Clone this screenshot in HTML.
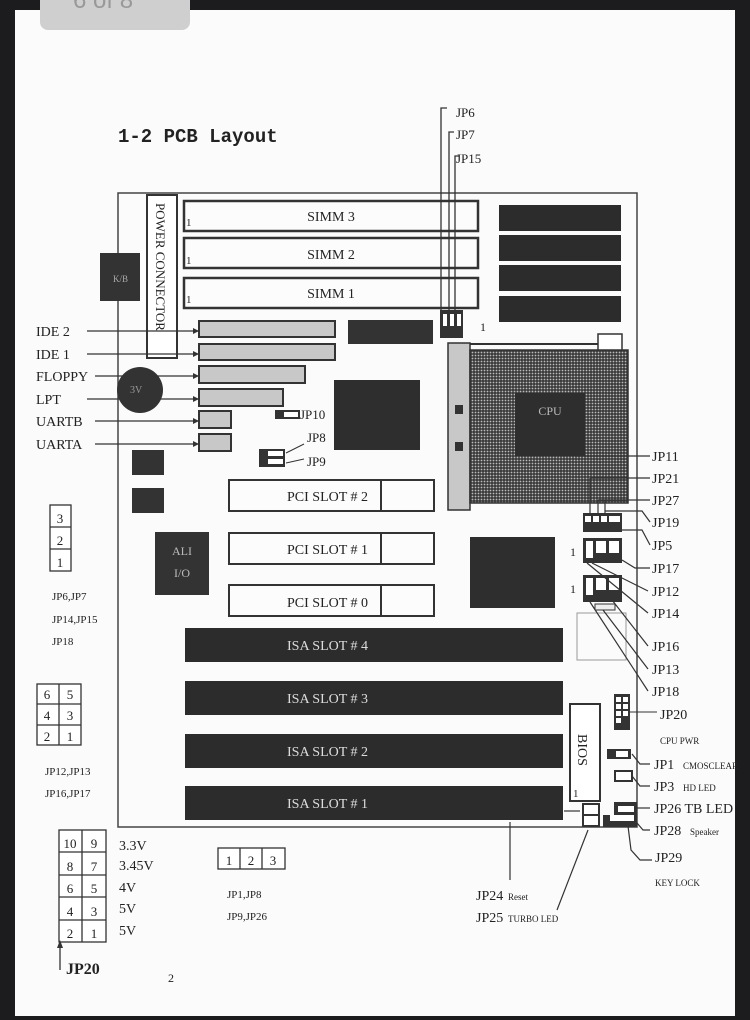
<!DOCTYPE html>
<html><head><meta charset="utf-8"><style>
html,body{margin:0;padding:0;background:#1c1c1e;}
svg{display:block;}
text{font-family:"Liberation Serif",serif;fill:#222;}
</style></head><body>
<svg width="750" height="1020" viewBox="0 0 750 1020" xmlns="http://www.w3.org/2000/svg">
<defs>
<pattern id="dots" width="3" height="3" patternUnits="userSpaceOnUse">
<rect width="3" height="3" fill="#3a3a3a"/><circle cx="1.5" cy="1.5" r="0.9" fill="#bbb"/>
</pattern>
</defs>
<rect x="0" y="0" width="750" height="1020" fill="#1c1c1e"/>
<rect x="15" y="10" width="720" height="1006" fill="#fbfbfb"/>
<rect x="40" y="-10" width="150" height="40" rx="8" fill="#cfcfcf"/>
<text x="73" y="8" font-size="24" style="fill:#999;font-family:'Liberation Sans',sans-serif">6 of 8</text>

<text x="118" y="142" font-size="19" font-weight="bold" style="font-family:'Liberation Mono',monospace">1-2 PCB Layout</text>

<!-- board -->
<rect x="118" y="193" width="519" height="634" fill="none" stroke="#444" stroke-width="1.5"/>
<rect x="147" y="195" width="30" height="163" fill="#fff" stroke="#333" stroke-width="2"/>
<text transform="translate(156,203) rotate(90)" font-size="13">POWER CONNECTOR</text>
<rect x="100" y="253" width="40" height="48" fill="#333"/>
<text x="113" y="282" font-size="9" style="fill:#aaa">K/B</text>

<g stroke="#333" stroke-width="2.5" fill="#fcfcfc">
<rect x="184" y="201" width="294" height="30"/>
<rect x="184" y="238" width="294" height="30"/>
<rect x="184" y="278" width="294" height="30"/>
</g>
<g font-size="14" text-anchor="middle">
<text x="331" y="221">SIMM 3</text><text x="331" y="259">SIMM 2</text><text x="331" y="298">SIMM 1</text>
</g>
<g font-size="11"><text x="186" y="226">1</text><text x="186" y="264">1</text><text x="186" y="303">1</text></g>

<g fill="#2c2c2c">
<rect x="499" y="205" width="122" height="26"/><rect x="499" y="235" width="122" height="26"/>
<rect x="499" y="265" width="122" height="26"/><rect x="499" y="296" width="122" height="26"/>
</g>

<!-- JP6/7/15 -->
<g stroke="#333" stroke-width="1.3" fill="none">
<path d="M447 108 H441 V312"/><path d="M454 132 H449 V312"/><path d="M459 156 H455 V312"/>
</g>
<rect x="440" y="310" width="23" height="28" fill="#333"/>
<g fill="#fff"><rect x="443" y="314" width="4" height="12"/><rect x="450" y="314" width="4" height="12"/><rect x="457" y="314" width="4" height="12"/></g>
<g font-size="13"><text x="456" y="117">JP6</text><text x="456" y="139">JP7</text><text x="456" y="163">JP15</text></g>
<text x="480" y="331" font-size="12">1</text>

<!-- IDE etc -->
<g stroke="#333" stroke-width="2" fill="#c8c8c8">
<rect x="199" y="321" width="136" height="16"/><rect x="199" y="344" width="136" height="16"/>
<rect x="199" y="366" width="106" height="17"/><rect x="199" y="389" width="84" height="17"/>
<rect x="199" y="411" width="32" height="17"/><rect x="199" y="434" width="32" height="17"/>
</g>
<g stroke="#333" stroke-width="1.2">
<line x1="87" y1="331" x2="199" y2="331"/><line x1="87" y1="354" x2="199" y2="354"/>
<line x1="95" y1="376" x2="199" y2="376"/><line x1="87" y1="399" x2="199" y2="399"/>
<line x1="95" y1="421" x2="199" y2="421"/><line x1="95" y1="444" x2="199" y2="444"/>
</g>
<g fill="#333">
<path d="M199 331 l-6 -3 v6z"/><path d="M199 354 l-6 -3 v6z"/><path d="M199 376 l-6 -3 v6z"/>
<path d="M199 399 l-6 -3 v6z"/><path d="M199 421 l-6 -3 v6z"/><path d="M199 444 l-6 -3 v6z"/>
</g>
<g font-size="14"><text x="36" y="336">IDE 2</text><text x="36" y="359">IDE 1</text><text x="36" y="381">FLOPPY</text>
<text x="36" y="404">LPT</text><text x="36" y="426">UARTB</text><text x="36" y="449">UARTA</text></g>
<circle cx="140" cy="390" r="23" fill="#333"/>
<text x="130" y="393" font-size="10" style="fill:#999">3V</text>

<rect x="348" y="320" width="85" height="24" fill="#333"/>
<rect x="334" y="380" width="86" height="70" fill="#2e2e2e"/>
<rect x="275" y="410" width="25" height="9" fill="#333"/><rect x="284" y="412" width="14" height="5" fill="#fff"/>
<text x="300" y="419" font-size="13">JP10</text>
<rect x="259" y="449" width="26" height="18" fill="#333"/>
<rect x="268" y="451" width="15" height="5" fill="#fff"/><rect x="268" y="459" width="15" height="5" fill="#fff"/>
<g stroke="#333" stroke-width="1"><line x1="286" y1="453" x2="304" y2="444"/><line x1="286" y1="463" x2="304" y2="459"/></g>
<g font-size="13"><text x="307" y="442">JP8</text><text x="307" y="466">JP9</text></g>

<rect x="132" y="450" width="32" height="25" fill="#333"/><rect x="132" y="488" width="32" height="25" fill="#333"/>

<!-- PCI -->
<g stroke="#333" stroke-width="2" fill="#fcfcfc">
<rect x="229" y="480" width="205" height="31"/><line x1="381" y1="480" x2="381" y2="511"/>
<rect x="229" y="533" width="205" height="31"/><line x1="381" y1="533" x2="381" y2="564"/>
<rect x="229" y="585" width="205" height="31"/><line x1="381" y1="585" x2="381" y2="616"/>
</g>
<g font-size="14"><text x="287" y="501">PCI SLOT # 2</text><text x="287" y="554">PCI SLOT # 1</text><text x="287" y="607">PCI SLOT # 0</text></g>
<rect x="155" y="532" width="54" height="63" fill="#333"/>
<text x="182" y="555" font-size="12" text-anchor="middle" style="fill:#bbb">ALI</text>
<text x="182" y="577" font-size="12" text-anchor="middle" style="fill:#bbb">I/O</text>

<!-- CPU -->
<rect x="448" y="343" width="22" height="167" fill="#c8c8c8" stroke="#333" stroke-width="1.5"/>
<rect x="455" y="405" width="8" height="9" fill="#333"/><rect x="455" y="442" width="8" height="9" fill="#333"/>
<rect x="470" y="350" width="158" height="153" fill="url(#dots)" stroke="#333" stroke-width="1.5"/>
<line x1="470" y1="344" x2="598" y2="344" stroke="#333" stroke-width="2"/>
<rect x="598" y="334" width="24" height="16" fill="#fff" stroke="#333" stroke-width="1.5"/>
<rect x="515" y="393" width="70" height="63" fill="#2e2e2e"/>
<text x="550" y="415" font-size="12" text-anchor="middle" style="fill:#bbb">CPU</text>
<rect x="470" y="537" width="85" height="71" fill="#2e2e2e"/>

<!-- right jumpers -->
<rect x="583" y="513" width="39" height="19" fill="#333"/>
<g fill="#fff"><rect x="585" y="516" width="6" height="6"/><rect x="593" y="516" width="6" height="6"/><rect x="601" y="516" width="6" height="6"/><rect x="609" y="516" width="6" height="6"/><rect x="615" y="516" width="5" height="6"/></g>
<rect x="583" y="538" width="39" height="25" fill="#333"/>
<g fill="#fff"><rect x="586" y="541" width="7" height="17"/><rect x="596" y="541" width="10" height="12"/><rect x="609" y="541" width="10" height="12"/></g>
<rect x="583" y="575" width="39" height="27" fill="#333"/>
<g fill="#fff"><rect x="586" y="578" width="7" height="17"/><rect x="596" y="578" width="10" height="12"/><rect x="609" y="578" width="10" height="12"/></g>
<rect x="595" y="604" width="20" height="6" fill="#eee" stroke="#333"/>
<rect x="577" y="613" width="49" height="47" fill="none" stroke="#999"/>
<g font-size="12"><text x="570" y="556">1</text><text x="570" y="593">1</text></g>
<g stroke="#333" stroke-width="1.2" fill="none">
<path d="M575 456 H650"/><path d="M590 478 H650"/><path d="M598 500 H650"/>
<path d="M605 513 V500"/><path d="M590 513 V478"/><path d="M598 513 V500"/>
<path d="M605 511 H642 L650 522"/><path d="M622 530 H642 L650 545"/>
<path d="M622 560 L635 568 H650"/>
<path d="M592 563 L648 591"/><path d="M587 563 L648 613"/>
<path d="M612 600 L648 646"/><path d="M603 610 L648 669"/><path d="M590 602 L648 691"/>
</g>
<g font-size="14"><text x="652" y="461">JP11</text><text x="652" y="483">JP21</text><text x="652" y="505">JP27</text>
<text x="652" y="527">JP19</text><text x="652" y="550">JP5</text><text x="652" y="573">JP17</text>
<text x="652" y="596">JP12</text><text x="652" y="618">JP14</text><text x="652" y="651">JP16</text>
<text x="652" y="674">JP13</text><text x="652" y="696">JP18</text><text x="660" y="719">JP20</text></g>

<!-- ISA -->
<g fill="#2c2c2c">
<rect x="185" y="628" width="378" height="34"/><rect x="185" y="681" width="378" height="34"/>
<rect x="185" y="734" width="378" height="34"/><rect x="185" y="786" width="378" height="34"/>
</g>
<g font-size="14"><text x="287" y="650" style="fill:#ddd">ISA SLOT # 4</text><text x="287" y="703" style="fill:#ddd">ISA SLOT # 3</text>
<text x="287" y="756" style="fill:#ddd">ISA SLOT # 2</text><text x="287" y="808" style="fill:#ddd">ISA SLOT # 1</text></g>

<!-- BIOS area -->
<rect x="570" y="704" width="30" height="97" fill="#fff" stroke="#333" stroke-width="2"/>
<text transform="translate(578,734) rotate(90)" font-size="14">BIOS</text>
<text x="573" y="797" font-size="11">1</text>
<rect x="614" y="694" width="16" height="36" fill="#333"/>
<g fill="#fff"><rect x="616" y="697" width="5" height="5"/><rect x="623" y="697" width="5" height="5"/><rect x="616" y="704" width="5" height="5"/><rect x="623" y="704" width="5" height="5"/><rect x="616" y="711" width="5" height="5"/><rect x="623" y="711" width="5" height="5"/><rect x="616" y="718" width="5" height="5"/></g>
<line x1="630" y1="712" x2="657" y2="712" stroke="#333"/>
<rect x="607" y="749" width="24" height="10" fill="#333"/><rect x="616" y="751" width="12" height="6" fill="#fff"/>
<rect x="615" y="771" width="17" height="10" fill="#fff" stroke="#333" stroke-width="2"/>
<rect x="583" y="804" width="16" height="22" fill="#fff" stroke="#333" stroke-width="2"/><line x1="583" y1="815" x2="599" y2="815" stroke="#333" stroke-width="2"/>
<path d="M603 827 V815 H614 V802 H637 V827 Z" fill="#333"/>
<rect x="618" y="806" width="16" height="6" fill="#fff"/><rect x="610" y="815" width="24" height="6" fill="#fff"/>
<g stroke="#333" stroke-width="1.2" fill="none">
<path d="M632 754 L640 764 H650"/><path d="M632 776 L640 786 H650"/><path d="M637 808 H650"/>
<path d="M637 823 L643 830 H650"/><path d="M628 826 L631 850 L640 860 H652"/>
<path d="M510 822 V880"/><path d="M588 830 L557 910"/><path d="M564 811 H580"/>
</g>
<g font-size="14"><text x="654" y="769">JP1</text><text x="654" y="791">JP3</text><text x="654" y="813">JP26 TB LED</text>
<text x="654" y="835">JP28</text><text x="655" y="862">JP29</text><text x="476" y="900">JP24</text><text x="476" y="922">JP25</text></g>
<g font-size="9"><text x="660" y="744">CPU PWR</text><text x="683" y="769">CMOSCLEAR</text><text x="683" y="791">HD LED</text>
<text x="690" y="835">Speaker</text><text x="655" y="886">KEY LOCK</text><text x="508" y="900">Reset</text><text x="508" y="922">TURBO LED</text></g>

<!-- left legends -->
<g stroke="#333" stroke-width="1.3" fill="#fff">
<rect x="50" y="505" width="21" height="66"/><line x1="50" y1="527" x2="71" y2="527"/><line x1="50" y1="549" x2="71" y2="549"/>
<rect x="37" y="684" width="44" height="61"/><line x1="59" y1="684" x2="59" y2="745"/><line x1="37" y1="704" x2="81" y2="704"/><line x1="37" y1="725" x2="81" y2="725"/>
<rect x="59" y="830" width="47" height="112"/><line x1="82" y1="830" x2="82" y2="942"/>
<line x1="59" y1="852" x2="106" y2="852"/><line x1="59" y1="875" x2="106" y2="875"/><line x1="59" y1="897" x2="106" y2="897"/><line x1="59" y1="920" x2="106" y2="920"/>
<rect x="218" y="848" width="67" height="21"/><line x1="240" y1="848" x2="240" y2="869"/><line x1="262" y1="848" x2="262" y2="869"/>
</g>
<g font-size="13" text-anchor="middle">
<text x="60" y="523">3</text><text x="60" y="545">2</text><text x="60" y="567">1</text>
<text x="47" y="699">6</text><text x="70" y="699">5</text><text x="47" y="720">4</text><text x="70" y="720">3</text><text x="47" y="741">2</text><text x="70" y="741">1</text>
<text x="70" y="848">10</text><text x="94" y="848">9</text><text x="70" y="871">8</text><text x="94" y="871">7</text>
<text x="70" y="893">6</text><text x="94" y="893">5</text><text x="70" y="916">4</text><text x="94" y="916">3</text>
<text x="70" y="938">2</text><text x="94" y="938">1</text>
<text x="229" y="865">1</text><text x="251" y="865">2</text><text x="273" y="865">3</text>
</g>
<g font-size="11"><text x="52" y="600">JP6,JP7</text><text x="52" y="623">JP14,JP15</text><text x="52" y="645">JP18</text>
<text x="45" y="775">JP12,JP13</text><text x="45" y="797">JP16,JP17</text>
<text x="227" y="898">JP1,JP8</text><text x="227" y="920">JP9,JP26</text></g>
<g font-size="14"><text x="119" y="850">3.3V</text><text x="119" y="870">3.45V</text><text x="119" y="892">4V</text><text x="119" y="913">5V</text><text x="119" y="935">5V</text></g>
<line x1="60" y1="942" x2="60" y2="970" stroke="#333" stroke-width="1.3"/>
<path d="M57 948 L60 940 L63 948 Z" fill="#333"/>
<text x="66" y="974" font-size="16" font-weight="bold">JP20</text>
<text x="168" y="982" font-size="12">2</text>
</svg>
</body></html>
